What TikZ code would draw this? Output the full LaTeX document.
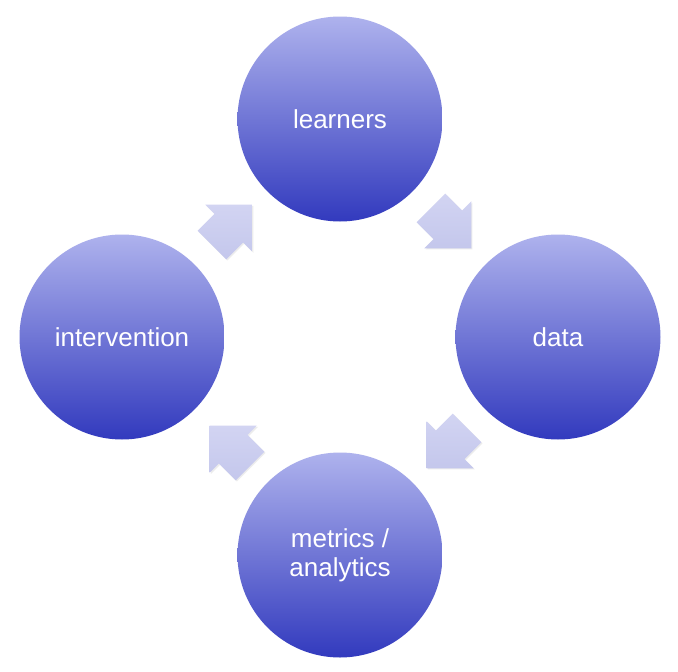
\documentclass[tikz,border=0pt]{standalone}
\usepackage{fontspec}
\setmainfont{Liberation Sans}
\usetikzlibrary{shapes.arrows,shadows}
\definecolor{ctop}{RGB}{174,178,237}
\definecolor{cbot}{RGB}{50,58,190}
\definecolor{atop}{RGB}{210,212,242}
\definecolor{abot}{RGB}{196,199,236}
\tikzset{
  bubble/.style={circle, minimum size=205pt, inner sep=0pt, draw=none,
    top color=ctop, bottom color=cbot, text=white, align=center,
    font=\fontsize{26}{29}\selectfont},
  flow/.style={single arrow, minimum height=57pt, minimum width=66pt,
    single arrow head extend=13pt, single arrow head indent=0pt,
    inner xsep=0pt, inner ysep=20pt, draw=none, top color=atop, bottom color=abot,
    drop shadow={opacity=0.15, shadow xshift=1.2pt, shadow yshift=-1.2pt}}
}
\begin{document}
\begin{tikzpicture}[x=1pt,y=-1pt]
\useasboundingbox (0,0) rectangle (678,672);
\fill[white] (0,0) rectangle (678,672);
\node[bubble] (learners) at (340,119) {learners};
\node[bubble] (data) at (558,337) {data};
\node[bubble] (metrics) at (340,555) {metrics /\\analytics};
\node[bubble] (intervention) at (122,337) {intervention};
\node[flow, rotate=-45] (a1) at (444,221) {};
\node[flow, rotate=-135] (a2) at (454,441) {};
\node[flow, rotate=135] (a3) at (237,453) {};
\node[flow, rotate=45] (a4) at (225,232) {};
\end{tikzpicture}
\end{document}
